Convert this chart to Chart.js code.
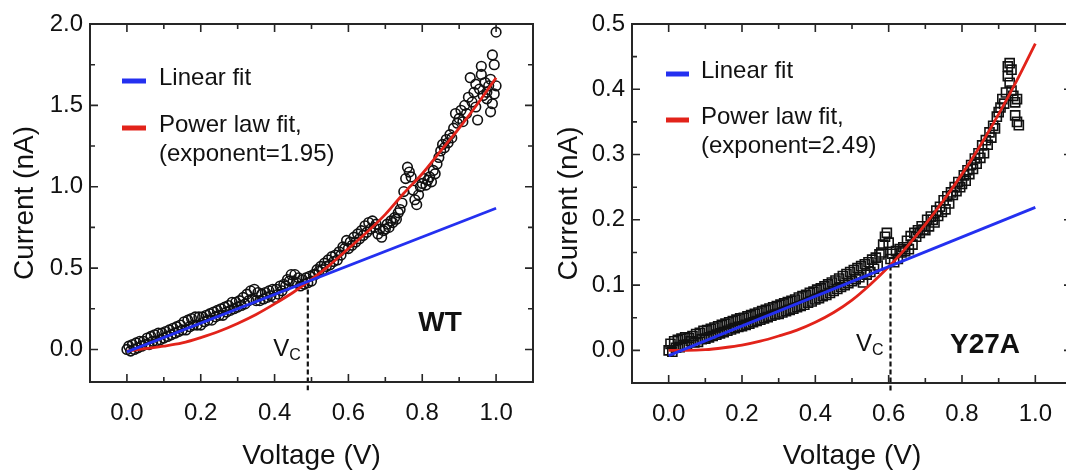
<!DOCTYPE html>
<html lang="en">
<head>
<meta charset="UTF-8">
<title>I-V curves WT / Y27A</title>
<script src="https://cdn.jsdelivr.net/npm/chart.js@4.4.0/dist/chart.umd.min.js"></script>
<style>
html, body { margin: 0; padding: 0; background: #fff; overflow: hidden; width: 1066px; height: 470px; }
canvas { position: absolute; top: 0; }
#wt { left: 0; }
#y27a { left: 540px; }
</style>
</head>
<body>
<canvas id="wt" width="545" height="470"></canvas>
<canvas id="y27a" width="540" height="470"></canvas>
<script>
// ---- data ----
const wtVoltage = [
  0,.005,.01,.015,.02,.025,.03,.035,.04,.045,.05,.055,.06,.065,.07,.075,.08,.085,.09,.095,
  .1,.105,.11,.115,.12,.125,.13,.135,.14,.145,.15,.155,.16,.165,.17,.175,.18,.185,.19,.195,
  .2,.205,.21,.215,.22,.225,.23,.235,.24,.245,.25,.255,.26,.265,.27,.275,.28,.285,.29,.295,
  .3,.305,.31,.315,.32,.325,.33,.335,.34,.345,.35,.355,.36,.365,.37,.375,.38,.385,.39,.395,
  .4,.405,.41,.415,.42,.425,.43,.435,.44,.445,.45,.455,.46,.465,.47,.475,.48,.485,.49,.495,
  .5,.505,.51,.515,.52,.525,.53,.535,.54,.545,.55,.555,.56,.565,.57,.575,.58,.585,.59,.595,
  .6,.605,.61,.615,.62,.625,.63,.635,.64,.645,.65,.655,.66,.665,.67,.675,.68,.685,.69,.695,
  .7,.705,.71,.715,.72,.725,.73,.735,.74,.745,.75,.755,.76,.765,.77,.775,.78,.785,.79,.795,
  .8,.805,.81,.815,.82,.825,.83,.835,.84,.845,.85,.855,.86,.865,.87,.875,.88,.885,.89,.895,
  .9,.905,.91,.915,.92,.925,.93,.935,.94,.945,.95,.955,.96,.965,.97,.975,.98,.985,.99,.995,
  1, .96,.975,.985,.99,.995,1,.945
];
const wtCurrent = [
  0.00,0.02,-0.01,0.03,0.00,0.04,0.01,0.05,0.02,0.05,0.03,0.07,0.03,0.08,0.05,0.09,0.05,0.10,0.06,0.10,
  0.07,0.11,0.08,0.12,0.09,0.13,0.10,0.14,0.11,0.15,0.12,0.17,0.12,0.18,0.14,0.19,0.15,0.20,0.15,0.20,
  0.15,0.20,0.17,0.21,0.18,0.22,0.18,0.23,0.20,0.24,0.21,0.25,0.21,0.26,0.23,0.27,0.24,0.29,0.25,0.29,
  0.26,0.30,0.27,0.32,0.28,0.34,0.30,0.36,0.31,0.37,0.30,0.35,0.30,0.34,0.31,0.35,0.32,0.36,0.33,0.37,
  0.32,0.37,0.34,0.39,0.36,0.40,0.39,0.43,0.42,0.46,0.42,0.46,0.41,0.44,0.39,0.43,0.40,0.44,0.41,0.45,
  0.42,0.46,0.46,0.49,0.48,0.51,0.49,0.53,0.51,0.55,0.52,0.57,0.54,0.58,0.55,0.60,0.58,0.63,0.62,0.67,
  0.62,0.66,0.64,0.69,0.66,0.71,0.68,0.73,0.70,0.76,0.72,0.78,0.74,0.79,0.75,0.77,0.71,0.74,0.69,0.73,
  0.74,0.77,0.75,0.79,0.78,0.81,0.80,0.84,0.86,0.90,0.97,1.05,1.12,1.09,1.06,0.98,0.92,0.89,0.95,1.00,
  1.02,1.05,1.01,1.04,1.06,1.03,1.10,1.08,1.14,1.18,1.22,1.26,1.24,1.29,1.27,1.32,1.30,1.36,1.45,1.39,
  1.42,1.47,1.40,1.50,1.45,1.55,1.67,1.52,1.58,1.49,1.41,1.60,1.74,1.56,1.64,1.58,1.62,1.66,1.81,1.57,
  1.95, 1.69,1.54,1.46,1.51,1.75,1.62,1.63
];

const y27aVoltage = [
  0,.005,.01,.015,.02,.025,.03,.035,.04,.045,.05,.055,.06,.065,.07,.075,.08,.085,.09,.095,
  .1,.105,.11,.115,.12,.125,.13,.135,.14,.145,.15,.155,.16,.165,.17,.175,.18,.185,.19,.195,
  .2,.205,.21,.215,.22,.225,.23,.235,.24,.245,.25,.255,.26,.265,.27,.275,.28,.285,.29,.295,
  .3,.305,.31,.315,.32,.325,.33,.335,.34,.345,.35,.355,.36,.365,.37,.375,.38,.385,.39,.395,
  .4,.405,.41,.415,.42,.425,.43,.435,.44,.445,.45,.455,.46,.465,.47,.475,.48,.485,.49,.495,
  .5,.505,.51,.515,.52,.525,.53,.535,.54,.545,.55,.555,.56,.565,.57,.575,.58,.585,.59,.595,
  .6,.605,.61,.615,.62,.625,.63,.635,.64,.645,.65,.655,.66,.665,.67,.675,.68,.685,.69,.695,
  .7,.705,.71,.715,.72,.725,.73,.735,.74,.745,.75,.755,.76,.765,.77,.775,.78,.785,.79,.795,
  .8,.805,.81,.815,.82,.825,.83,.835,.84,.845,.85,.855,.86,.865,.87,.875,.88,.885,.89,.895,
  .9,.905,.91,.915,.92,.925,.93,.935,.94,.945,.95,.955,
  .925,.93,.935,.945,.95
];
const y27aCurrent = [
  0.000,0.010,-0.002,0.014,0.004,0.016,0.005,0.018,0.008,0.020,0.009,0.019,0.014,0.022,0.012,0.025,0.013,0.027,0.017,0.030,
  0.018,0.031,0.020,0.033,0.022,0.035,0.024,0.037,0.026,0.039,0.028,0.041,0.030,0.043,0.032,0.045,0.034,0.047,0.036,0.049,
  0.037,0.050,0.039,0.052,0.041,0.054,0.043,0.056,0.045,0.058,0.047,0.060,0.049,0.062,0.051,0.064,0.053,0.066,0.055,0.068,
  0.056,0.070,0.058,0.072,0.060,0.074,0.062,0.076,0.064,0.078,0.066,0.081,0.068,0.083,0.070,0.085,0.073,0.088,0.075,0.090,
  0.078,0.093,0.080,0.095,0.083,0.098,0.085,0.101,0.088,0.104,0.091,0.107,0.094,0.110,0.097,0.114,0.100,0.117,0.103,0.120,
  0.106,0.123,0.109,0.126,0.112,0.129,0.104,0.132,0.116,0.135,0.120,0.139,0.125,0.142,0.130,0.147,0.150,0.162,0.174,0.180,
  0.165,0.140,0.148,0.135,0.152,0.140,0.155,0.150,0.158,0.152,0.168,0.155,0.175,0.162,0.180,0.174,0.184,0.180,0.190,0.185,
  0.184,0.200,0.190,0.205,0.200,0.196,0.214,0.206,0.220,0.212,0.230,0.216,0.236,0.225,0.242,0.238,0.250,0.244,0.258,0.250,
  0.255,0.268,0.260,0.276,0.270,0.284,0.278,0.294,0.286,0.302,0.295,0.314,0.302,0.322,0.315,0.334,0.326,0.344,0.340,0.358,
  0.365,0.372,0.385,0.378,0.395,0.420,0.440,0.430,0.390,0.380,0.350,0.345,
  0.435,0.410,0.398,0.360,0.385
];

// fits
const fitVoltage = [0,.05,.1,.15,.2,.25,.3,.35,.4,.45,.5,.55,.6,.65,.7,.75,.8,.85,.9,.95,1];
const wtPowerFit = [-0.01,0.005,0.02,0.04,0.073,0.112,0.16,0.215,0.28,0.35,0.43,0.52,0.62,0.72,0.83,0.96,1.08,1.22,1.36,1.51,1.67];
const y27aPowerFit = [0,0,0.001,0.004,0.008,0.014,0.022,0.031,0.043,0.058,0.077,0.101,0.128,0.159,0.193,0.23,0.27,0.314,0.362,0.414,0.47];
const linearVoltage = [0, 1];
const wtLinearFit = [-0.015, 0.868];
const y27aLinearFit = [-0.008, 0.219];

// critical voltage markers
const wtVc = 0.49, wtVcCurrent = [0.418, -0.25];
const y27aVc = 0.605, y27aVcCurrent = [0.13, -0.062];

// ticks
const xMajor = [0, 0.2, 0.4, 0.6, 0.8, 1.0];
const xMinor = [0.1, 0.3, 0.5, 0.7, 0.9];
const wtYMajor = [0, 0.5, 1.0, 1.5, 2.0];
const wtYMinor = [0.25, 0.75, 1.25, 1.75];
const y27aYMajor = [0, 0.1, 0.2, 0.3, 0.4, 0.5];
const y27aYMinor = [0.05, 0.15, 0.25, 0.35, 0.45];

const FONT = "'Liberation Sans', Arial, Helvetica, sans-serif";
const BLUE = '#2430f0';
const RED = '#e2231a';
Chart.defaults.font.family = FONT;
Chart.defaults.color = '#111';

const pts = (xs, ys) => xs.map((v, i) => ({x: v, y: ys[i]}));

// frame, inward ticks, legend and labels
const framePlugin = {
  id: 'frame',
  afterDraw(chart, args, o) {
    const {ctx, chartArea: a, scales: {x, y}} = chart;
    ctx.save();
    ctx.strokeStyle = '#262626';
    ctx.lineWidth = 2;
    ctx.strokeRect(a.left, a.top, a.right - a.left, a.bottom - a.top);
    ctx.lineWidth = 1.6;
    ctx.beginPath();
    x.ticks.forEach(t => {
      const px = x.getPixelForValue(t.value);
      const len = t.label ? 8 : 5;
      ctx.moveTo(px, a.bottom); ctx.lineTo(px, a.bottom - len);
      ctx.moveTo(px, a.top); ctx.lineTo(px, a.top + len);
    });
    y.ticks.forEach(t => {
      const py = y.getPixelForValue(t.value);
      const len = t.label ? 8 : 5;
      ctx.moveTo(a.left, py); ctx.lineTo(a.left + len, py);
      ctx.moveTo(a.right, py); ctx.lineTo(a.right - len, py);
    });
    ctx.stroke();

    // legend
    const lg = o.legend;
    ctx.lineWidth = 5;
    ctx.strokeStyle = BLUE;
    ctx.beginPath();
    ctx.moveTo(a.left + lg.x0, a.top + lg.blueY); ctx.lineTo(a.left + lg.x1, a.top + lg.blueY);
    ctx.stroke();
    ctx.strokeStyle = RED;
    ctx.beginPath();
    ctx.moveTo(a.left + lg.x0, a.top + lg.redY); ctx.lineTo(a.left + lg.x1, a.top + lg.redY);
    ctx.stroke();
    ctx.fillStyle = '#111';
    ctx.font = '24px ' + FONT;
    ctx.textAlign = 'left';
    ctx.textBaseline = 'middle';
    ctx.fillText('Linear fit', a.left + lg.tx, a.top + lg.blueY - 3);
    ctx.fillText('Power law fit,', a.left + lg.tx, a.top + lg.redY - 3);
    ctx.fillText(o.exponentText, a.left + lg.tx, a.top + lg.redY + 26);

    // sample name
    ctx.font = 'bold 28px ' + FONT;
    ctx.textAlign = 'center';
    ctx.fillText(o.name, a.left + o.nameX, a.top + o.nameY);

    // V_C label next to the dashed line
    const dx = x.getPixelForValue(o.vc) - 7;
    ctx.font = '16px ' + FONT;
    ctx.textAlign = 'right';
    const cw = ctx.measureText('C').width;
    ctx.fillText('C', dx, a.bottom - o.vcDy + 7);
    ctx.font = '24px ' + FONT;
    ctx.fillText('V', dx - cw, a.bottom - o.vcDy);
    ctx.restore();
  }
};

function makePanel(id, cfg) {
  return new Chart(document.getElementById(id), {
    type: 'scatter',
    data: {
      datasets: [
        {
          type: 'line', data: pts(linearVoltage, cfg.linear),
          borderColor: BLUE, borderWidth: 2.8, pointRadius: 0, order: 0
        },
        {
          type: 'line', data: pts(fitVoltage, cfg.power),
          borderColor: RED, borderWidth: 2.8, pointRadius: 0,
          cubicInterpolationMode: 'monotone', order: 1
        },
        {
          type: 'line', data: pts([cfg.vc, cfg.vc], cfg.vcCurrent),
          borderColor: '#111', borderWidth: 2.2, borderDash: [5, 3],
          pointRadius: 0, clip: false, order: 1
        },
        {
          data: pts(cfg.voltage, cfg.current),
          pointStyle: cfg.marker, pointRadius: cfg.radius,
          borderColor: '#111', borderWidth: 1.6,
          backgroundColor: 'rgba(0,0,0,0)', order: 2
        }
      ]
    },
    options: {
      responsive: false,
      animation: false,
      events: [],
      layout: {padding: {top: 24, right: cfg.padRight, bottom: 0, left: 0}},
      plugins: {
        legend: {display: false},
        tooltip: {enabled: false},
        frame: cfg.frame
      },
      scales: {
        x: {
          type: 'linear', min: -0.1, max: 1.1,
          afterBuildTicks: s => { s.ticks = xMajor.concat(xMinor).map(v => ({value: v})); },
          afterFit: s => { s.height = cfg.xHeight; },
          ticks: {
            font: {size: 24}, padding: 17, maxRotation: 0, autoSkip: false,
            callback: v => xMajor.some(m => Math.abs(m - v) < 1e-6) ? v.toFixed(1) : ''
          },
          grid: {display: false, drawTicks: false},
          border: {display: false},
          title: {display: true, text: 'Voltage (V)', font: {size: 28, lineHeight: 1}, padding: 0}
        },
        y: {
          type: 'linear', min: cfg.yMin, max: cfg.yMax,
          afterBuildTicks: s => { s.ticks = cfg.yMajor.concat(cfg.yMinor).map(v => ({value: v})); },
          afterFit: s => { s.width = cfg.yWidth; },
          ticks: {
            font: {size: 24}, padding: 7, autoSkip: false,
            callback: v => cfg.yMajor.some(m => Math.abs(m - v) < 1e-6) ? v.toFixed(1) : ''
          },
          grid: {display: false, drawTicks: false},
          border: {display: false},
          title: {display: true, text: 'Current (nA)', font: {size: 28, lineHeight: 1}, padding: {top: cfg.yTitlePad}}
        }
      }
    },
    plugins: [framePlugin]
  });
}

makePanel('wt', {
  voltage: wtVoltage, current: wtCurrent,
  linear: wtLinearFit, power: wtPowerFit,
  vc: wtVc, vcCurrent: wtVcCurrent,
  marker: 'circle', radius: 4.8,
  yMin: -0.2, yMax: 2.0, yMajor: wtYMajor, yMinor: wtYMinor,
  yWidth: 90, xHeight: 88, padRight: 12, yTitlePad: 11,
  frame: {
    legend: {x0: 32, x1: 56, tx: 69, blueY: 57, redY: 104},
    exponentText: '(exponent=1.95)',
    name: 'WT', nameX: 350, nameY: 299,
    vc: wtVc, vcDy: 33
  }
});

makePanel('y27a', {
  voltage: y27aVoltage, current: y27aCurrent,
  linear: y27aLinearFit, power: y27aPowerFit,
  vc: y27aVc, vcCurrent: y27aVcCurrent,
  marker: 'rect', radius: 6.4,
  yMin: -0.05, yMax: 0.5, yMajor: y27aYMajor, yMinor: y27aYMinor,
  yWidth: 92, xHeight: 87, padRight: 8, yTitlePad: 15,
  frame: {
    legend: {x0: 34, x1: 57, tx: 69, blueY: 50, redY: 96},
    exponentText: '(exponent=2.49)',
    name: 'Y27A', nameX: 353, nameY: 321,
    vc: y27aVc, vcDy: 39
  }
});
</script>
</body>
</html>
